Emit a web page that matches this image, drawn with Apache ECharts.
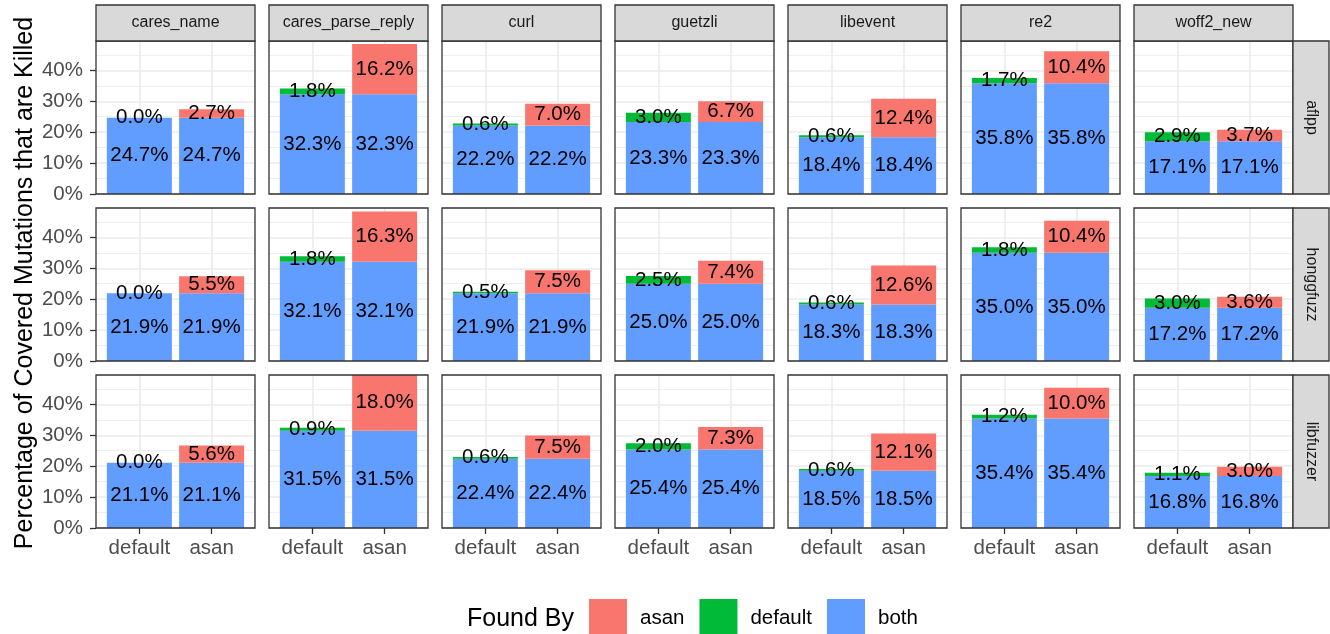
<!DOCTYPE html>
<html><head><meta charset="utf-8">
<script src="https://cdn.jsdelivr.net/npm/echarts@6/dist/echarts.min.js"></script>
<style>html,body{margin:0;padding:0;background:#fff}#c{width:1330px;height:634px}</style>
</head><body><div id="c"></div>
<script>
// ---- data ----
const programs = ['cares_name', 'cares_parse_reply', 'curl', 'guetzli', 'libevent', 're2', 'woff2_new'];
const fuzzers = ['aflpp', 'honggfuzz', 'libfuzzer'];
const xLabels = ['default', 'asan'];
const yTicks = [0, 10, 20, 30, 40];
const legendNames = ['asan', 'default', 'both'];

const bothAflpp = [24.7, 32.3, 22.2, 23.3, 18.4, 35.8, 17.1];
const defaultAflpp = [0.0, 1.8, 0.6, 3.0, 0.6, 1.7, 2.9];
const asanAflpp = [2.7, 16.2, 7.0, 6.7, 12.4, 10.4, 3.7];

const bothHonggfuzz = [21.9, 32.1, 21.9, 25.0, 18.3, 35.0, 17.2];
const defaultHonggfuzz = [0.0, 1.8, 0.5, 2.5, 0.6, 1.8, 3.0];
const asanHonggfuzz = [5.5, 16.3, 7.5, 7.4, 12.6, 10.4, 3.6];

const bothLibfuzzer = [21.1, 31.5, 22.4, 25.4, 18.5, 35.4, 16.8];
const defaultLibfuzzer = [0.0, 0.9, 0.6, 2.0, 0.6, 1.2, 1.1];
const asanLibfuzzer = [5.6, 18.0, 7.5, 7.3, 12.1, 10.0, 3.0];

const yMax = 49.5;

// ---- layout / style ----
const both = [bothAflpp, bothHonggfuzz, bothLibfuzzer];
const deflt = [defaultAflpp, defaultHonggfuzz, defaultLibfuzzer];
const asan = [asanAflpp, asanHonggfuzz, asanLibfuzzer];
const colors = { asan: '#F8766D', default: '#00BA38', both: '#619CFF' };
const FF = 'Liberation Sans, Arial, Helvetica, sans-serif';
const P_LEFT = 96, P_STEP_X = 173, P_W = 159;
const P_TOP = 41, P_STEP_Y = 167, P_H = 153;
const STRIP = 36;

const grids = [], xAxes = [], yAxes = [], series = [], graphics = [];
let gi = 0;
fuzzers.forEach((fz, r) => {
  programs.forEach((pg, c) => {
    const left = P_LEFT + c * P_STEP_X, top = P_TOP + r * P_STEP_Y;
    grids.push({ left: left, top: top, width: P_W, height: P_H, show: false });
    const bottomRow = r === fuzzers.length - 1, firstCol = c === 0;
    xAxes.push({
      type: 'value', gridIndex: gi, min: 0.4, max: 2.6,
      axisLine: { show: false },
      axisTick: { show: bottomRow, customValues: [1, 2], length: 6, lineStyle: { color: '#333333', width: 1.3 } },
      axisLabel: { show: bottomRow, customValues: [1, 2], formatter: v => xLabels[Math.round(v) - 1] || '',
        fontSize: 20.5, color: '#4D4D4D', fontFamily: FF, margin: 10 },
      splitLine: { show: true, lineStyle: { color: '#EBEBEB', width: 1.6 } }
    });
    yAxes.push({
      type: 'value', gridIndex: gi, min: 0, max: yMax, interval: 10,
      axisLine: { show: false },
      axisTick: { show: firstCol, customValues: yTicks, length: 6, lineStyle: { color: '#333333', width: 1.3 } },
      axisLabel: { show: firstCol, customValues: yTicks, formatter: v => v + '%', fontSize: 20.5, color: '#4D4D4D', fontFamily: FF, margin: 13 },
      splitLine: { show: true, lineStyle: { color: '#EBEBEB', width: 1.6 } },
      minorTick: { show: false, splitNumber: 2 },
      minorSplitLine: { show: true, lineStyle: { color: '#EBEBEB', width: 0.8 } }
    });
    const lbl = {
      show: true, position: 'inside', color: '#000', fontSize: 20.5, fontFamily: FF,
      textBorderWidth: 0, formatter: p => Number(p.value[0]).toFixed(1) + '%'
    };
    const common = { type: 'bar', xAxisIndex: gi, yAxisIndex: gi, stack: 's' + gi, barWidth: 65,
      encode: { x: 1, y: 0 }, label: lbl, animation: false, emphasis: { disabled: true } };
    series.push(Object.assign({}, common, { name: 'both', itemStyle: { color: colors.both },
      data: [[both[r][c], 1], [both[r][c], 2]] }));
    series.push(Object.assign({}, common, { name: 'default', itemStyle: { color: colors.default },
      data: [[deflt[r][c], 1], ['-', 2]] }));
    series.push(Object.assign({}, common, { name: 'asan', itemStyle: { color: colors.asan },
      data: [['-', 1], [asan[r][c], 2]] }));
    // panel border
    graphics.push({ type: 'rect', z: 100, shape: { x: left, y: top, width: P_W, height: P_H },
      style: { fill: 'none', stroke: '#333333', lineWidth: 1.3 } });
    // top strips
    if (r === 0) {
      graphics.push({ type: 'rect', z: 100, shape: { x: left, y: top - STRIP, width: P_W, height: STRIP },
        style: { fill: '#D9D9D9', stroke: '#333333', lineWidth: 1.3 } });
      graphics.push({ type: 'text', z: 101, x: left + P_W / 2, y: top - STRIP / 2,
        style: { text: pg, fill: '#1A1A1A', fontSize: 16, fontFamily: FF, align: 'center', verticalAlign: 'middle' } });
    }
    // right strips
    if (c === programs.length - 1) {
      graphics.push({ type: 'rect', z: 100, shape: { x: left + P_W, y: top, width: STRIP, height: P_H },
        style: { fill: '#D9D9D9', stroke: '#333333', lineWidth: 1.3 } });
      graphics.push({ type: 'text', z: 101, x: left + P_W + STRIP / 2, y: top + P_H / 2, rotation: -Math.PI / 2,
        style: { text: fz, fill: '#1A1A1A', fontSize: 16, fontFamily: FF, align: 'center', verticalAlign: 'middle' } });
    }
    gi++;
  });
});

// y title
graphics.push({ type: 'text', x: 25, y: 283, rotation: Math.PI / 2,
  style: { text: 'Percentage of Covered Mutations that are Killed', fill: '#000', fontSize: 25, fontFamily: FF,
    align: 'center', verticalAlign: 'middle' } });
// legend title
graphics.push({ type: 'text', x: 467, y: 619,
  style: { text: 'Found By', fill: '#000', fontSize: 25, fontFamily: FF, align: 'left', verticalAlign: 'middle' } });

const chart = echarts.init(document.getElementById('c'), null, { renderer: 'canvas' });
chart.setOption({
  animation: false,
  backgroundColor: '#fff',
  grid: grids, xAxis: xAxes, yAxis: yAxes, series: series,
  legend: {
    data: legendNames, left: 589, top: 599, padding: 0, itemWidth: 38, itemHeight: 38, itemGap: 15,
    icon: 'rect', selectedMode: false,
    textStyle: { fontSize: 20.5, color: '#000', fontFamily: FF, padding: [0, 0, 0, 8] }
  },
  graphic: graphics
});
</script></body></html>
